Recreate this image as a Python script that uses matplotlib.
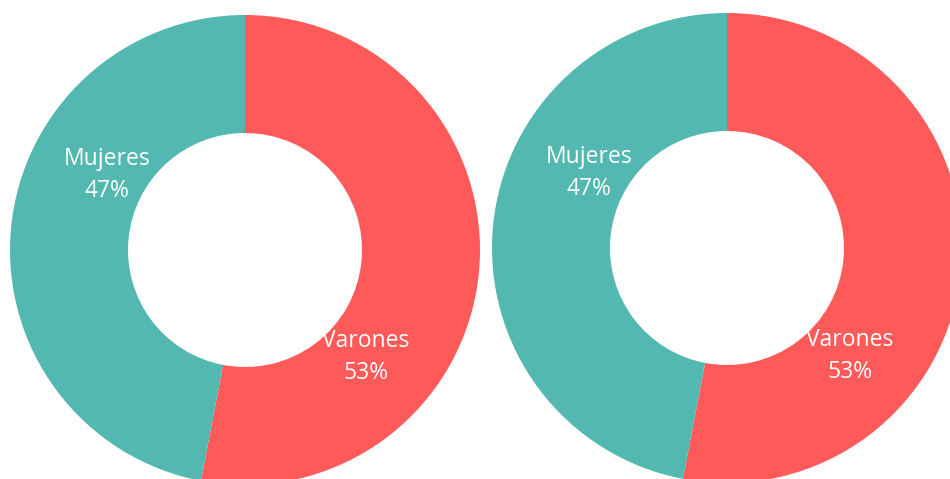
import matplotlib.pyplot as plt

# data
labels = ["Varones", "Mujeres"]
left_vals = [53, 47]
right_vals = [53, 47]
colors = ["#FF5A5A", "#52B8B0"]

W, H = 950, 479
fig = plt.figure(figsize=(W / 100, H / 100), dpi=100)
ax = fig.add_axes([0, 0, 1, 1])


def donut(ax, vals, cx, cy, lab_pos):
    ax.pie(vals, colors=colors, startangle=90, counterclock=False,
           center=(cx, cy), radius=235,
           wedgeprops=dict(width=118, edgecolor="none", linewidth=0))
    total = sum(vals)
    for name, v, (lx, ly) in zip(labels, vals, lab_pos):
        ax.text(lx, ly, "%s\n%d%%" % (name, round(100 * v / total)),
                ha="center", va="center", color="white", fontsize=16.5,
                family="Open Sans", linespacing=1.45)


# label positions are given in image pixels (y downward)
donut(ax, left_vals, 245, H - 250, [(366, H - 357), (107, H - 175)])
donut(ax, right_vals, 727, H - 248, [(850, H - 356), (589, H - 173)])

ax.set_xlim(0, W)
ax.set_ylim(0, H)
ax.set_aspect("equal")
ax.axis("off")

fig.savefig("out.png", dpi=100)
